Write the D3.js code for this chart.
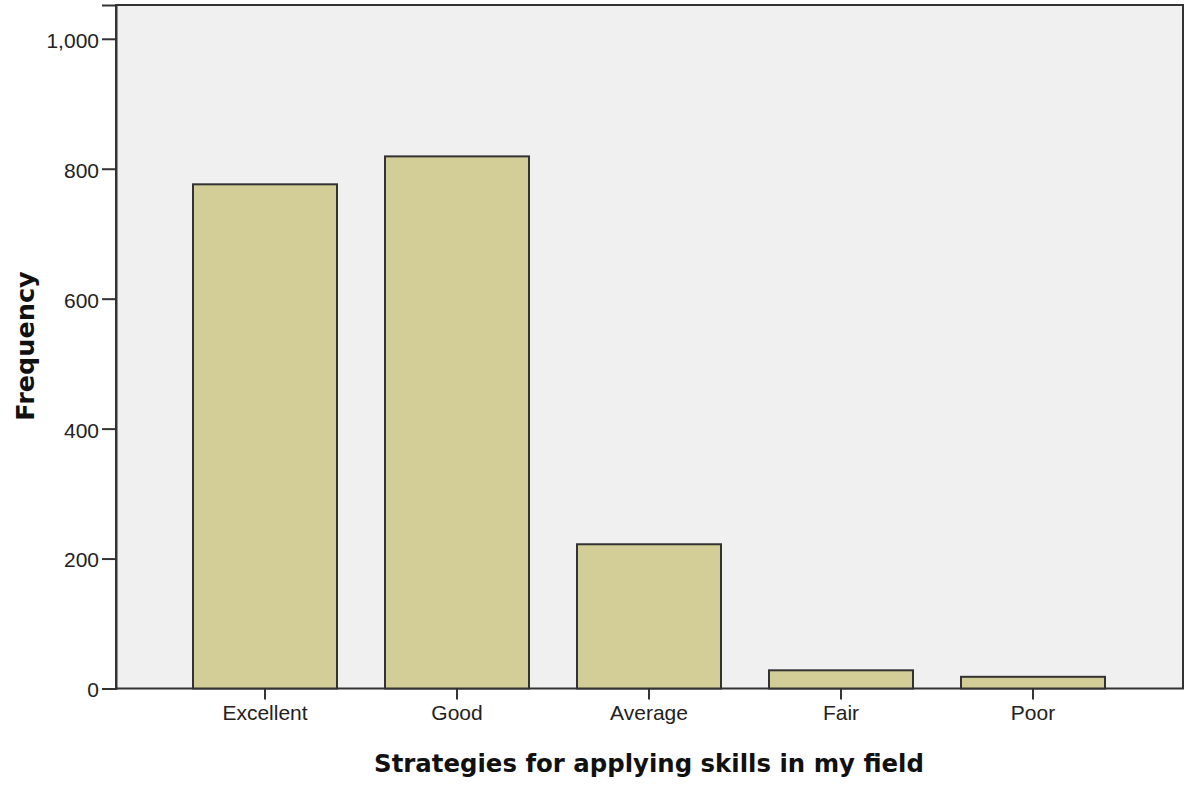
<!DOCTYPE html>
<html><head><meta charset="utf-8">
<script src="https://cdn.jsdelivr.net/npm/d3@7"></script>
<style>body{margin:0;background:#fff}</style>
</head><body><svg id="c" width="1186" height="786"></svg>
<script>
const categories = ["Excellent","Good","Average","Fair","Poor"];
const frequencies = [776, 819, 222, 28, 18];
const yTicks = [0,200,400,600,800,1000];

const svg = d3.select("#c");
const plot = {left:116, right:1183, top:5, bottom:688.5};
const x = d3.scaleBand().domain(categories).range([169,1129]).paddingInner(0.25).paddingOuter(0.125);
const y = d3.scaleLinear().domain([0,1052]).range([plot.bottom, plot.top]);
const tickFont = "Arial, 'Liberation Sans', sans-serif";
const titleFont = "'DejaVu Sans', Verdana, sans-serif";

svg.append("rect").attr("x",plot.left).attr("y",plot.top)
  .attr("width",plot.right-plot.left).attr("height",plot.bottom-plot.top)
  .attr("fill","#f0f0f0").attr("stroke","#333").attr("stroke-width",2);

svg.selectAll("rect.bar").data(frequencies).enter().append("rect").attr("class","bar")
  .attr("x",(d,i)=>x(categories[i])).attr("width",x.bandwidth())
  .attr("y",d=>y(d)).attr("height",d=>y(0)-y(d))
  .attr("fill","#d3ce97").attr("stroke","#333").attr("stroke-width",2);

const fmt = d3.format(",");
const ya = svg.append("g").attr("transform",`translate(${plot.left},0)`)
  .call(d3.axisLeft(y).tickValues(yTicks).tickFormat(fmt).tickSize(14).tickPadding(3));
ya.select(".domain").attr("stroke","#333").attr("stroke-width",2);
ya.selectAll(".tick line").attr("stroke","#333").attr("stroke-width",2);
ya.selectAll(".tick text").attr("font-family",tickFont).attr("font-size",21).attr("fill","#222").attr("dy","0.4em");

const xa = svg.append("g").attr("transform",`translate(0,${plot.bottom})`)
  .call(d3.axisBottom(x).tickSize(11).tickPadding(6));
xa.select(".domain").remove();
xa.selectAll(".tick line").attr("stroke","#333").attr("stroke-width",2);
xa.selectAll(".tick text").attr("font-family",tickFont).attr("font-size",21).attr("fill","#222").attr("dy","0.68em");

svg.append("text").attr("x",649).attr("y",772).attr("text-anchor","middle")
  .attr("font-family",titleFont).attr("font-weight","bold").attr("font-size",24.4).attr("fill","#111")
  .text("Strategies for applying skills in my field");
svg.append("text").attr("transform","translate(34,346) rotate(-90)").attr("text-anchor","middle")
  .attr("font-family",titleFont).attr("font-weight","bold").attr("font-size",25.5).attr("fill","#111")
  .text("Frequency");
</script></body></html>
